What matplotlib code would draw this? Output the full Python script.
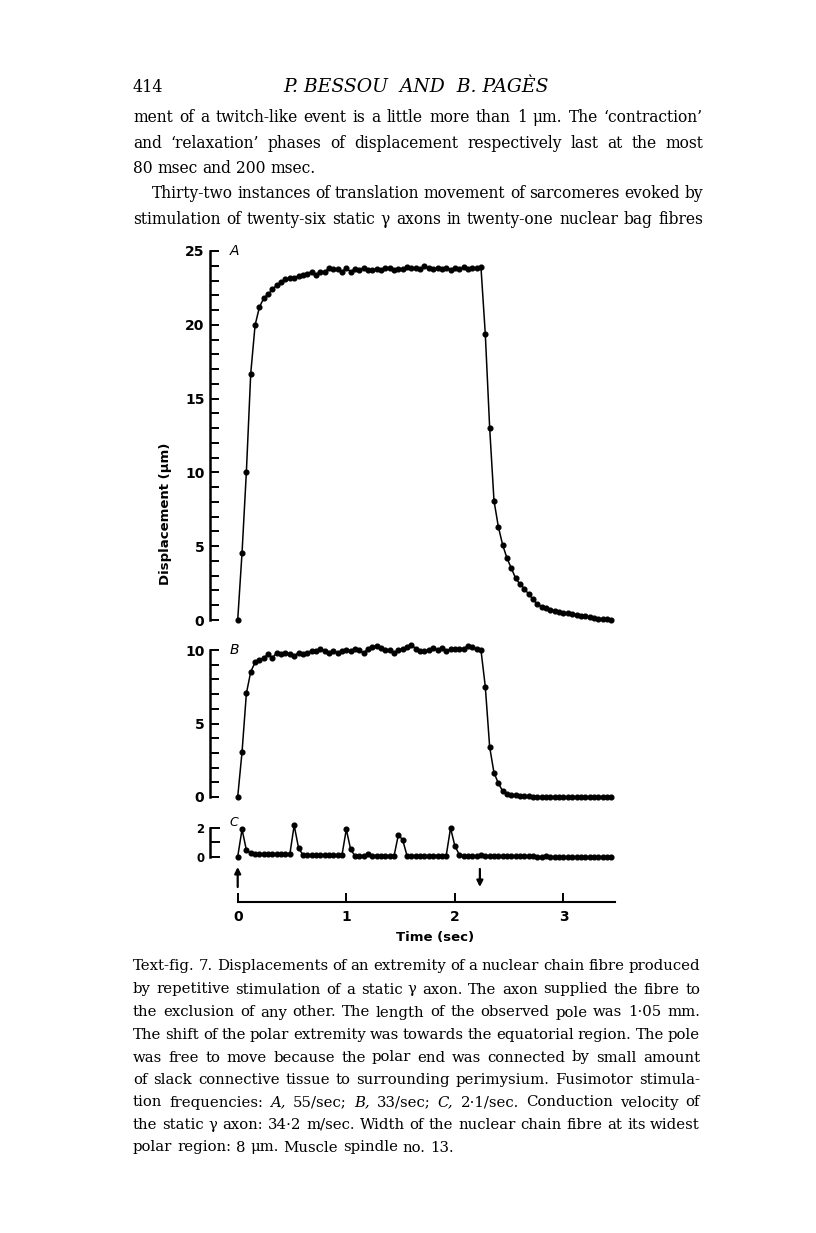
import numpy as np
import matplotlib
matplotlib.use("Agg")
import matplotlib.pyplot as plt
from matplotlib.ticker import MultipleLocator, FixedLocator

W, H = 816, 1233
DT = 0.04  # sampling interval (s)

# ---------------- data ----------------
a_disp = [0, 4.56, 10.05, 16.7, 19.97, 21.2, 21.8, 22.07, 22.4, 22.7, 22.9, 23.1,
          23.15, 23.2, 23.3, 23.4,
          23.47, 23.6, 23.4, 23.6, 23.55, 23.85, 23.8, 23.78, 23.6, 23.85, 23.6, 23.78,
          23.74, 23.85, 23.74, 23.7, 23.78, 23.7, 23.85, 23.85, 23.74, 23.78, 23.78, 23.9,
          23.85, 23.85, 23.8, 23.96, 23.85, 23.78, 23.85, 23.78, 23.85, 23.74, 23.85, 23.8,
          23.9, 23.78, 23.85, 23.85, 23.9,
          19.36, 13.03, 8.08, 6.32, 5.08, 4.18, 3.5, 2.82, 2.42, 2.12, 1.74, 1.40, 1.06,
          0.9, 0.8, 0.7, 0.62, 0.55, 0.5, 0.45, 0.4, 0.35, 0.3, 0.24, 0.18, 0.13, 0.09,
          0.06, 0.04, 0.02]

b_disp = [0, 3.07, 7.05, 8.52, 9.16, 9.32, 9.48, 9.7, 9.48, 9.82, 9.7, 9.82, 9.7, 9.6,
          9.82, 9.7, 9.82, 9.93, 9.93, 10.1, 9.93, 9.77, 9.93, 9.82, 9.93, 10.0, 9.93, 10.1,
          10.0, 9.77, 10.1, 10.2, 10.27, 10.16, 10.0, 10.0, 9.82, 10.0, 10.1, 10.2, 10.34,
          10.1, 9.93, 9.93, 10.0, 10.16, 10.0, 10.16, 9.93, 10.05, 10.05, 10.1, 10.1, 10.27,
          10.18, 10.05, 10.0,
          7.5, 3.41, 1.64, 0.95, 0.39, 0.23, 0.16, 0.11, 0.07, 0.05,
          0.04, 0.03, 0.03, 0.02, 0.02, 0.01, 0.01, 0.0, 0.0, 0.0, -0.01, -0.01, -0.02,
          -0.02, -0.02, -0.03, -0.03, -0.03, -0.03, -0.03]

c_disp = [0, 1.88, 0.45, 0.25, 0.2,
          0.18, 0.17, 0.17, 0.17, 0.17, 0.17, 0.16, 0.16,
          2.16, 0.61, 0.12,
          0.1, 0.1, 0.1, 0.1, 0.1, 0.1, 0.1, 0.1, 0.1,
          1.88, 0.5, 0.05,
          0.08, 0.08, 0.2, 0.08, 0.08, 0.07, 0.07, 0.07, 0.07,
          1.52, 1.13, 0.05,
          0.08, 0.08, 0.08, 0.08, 0.08, 0.08, 0.08, 0.08, 0.08,
          1.97, 0.73, 0.15,
          0.05, 0.05, 0.05, 0.05, 0.12,
          0.05, 0.04, 0.04, 0.04, 0.03, 0.03, 0.03, 0.03, 0.02, 0.02, 0.02, 0.02, 0.01, 0.01,
          0.08,
          -0.03, -0.04, -0.04, -0.05, -0.05, -0.05, -0.05, -0.05, -0.05, -0.05, -0.05, -0.05,
          -0.05, -0.05, -0.05]

time_ticks = [0, 1, 2, 3]
a_yticks = [0, 5, 10, 15, 20, 25]
b_yticks = [0, 5, 10]
c_yticks = [0, 2]
stim_on, stim_off = 0.0, 2.23
panel_labels = ["A", "B", "C"]

body_lines = [
    "ment of a twitch-like event is a little more than 1 μm. The ‘contraction’",
    "and ‘relaxation’ phases of displacement respectively last at the most",
    "80 msec and 200 msec.",
    "Thirty-two instances of translation movement of sarcomeres evoked by",
    "stimulation of twenty-six static γ axons in twenty-one nuclear bag fibres",
]
caption_lines = [
    "Text-fig. 7. Displacements of an extremity of a nuclear chain fibre produced",
    "by repetitive stimulation of a static γ axon. The axon supplied the fibre to",
    "the exclusion of any other. The length of the observed pole was 1·05 mm.",
    "The shift of the polar extremity was towards the equatorial region. The pole",
    "was free to move because the polar end was connected by small amount",
    "of slack connective tissue to surrounding perimysium. Fusimotor stimula-",
    "tion frequencies: *A, 55/sec; *B, 33/sec; *C, 2·1/sec. Conduction velocity of",
    "the static γ axon: 34·2 m/sec. Width of the nuclear chain fibre at its widest",
    "polar region: 8 μm. Muscle spindle no. 13.",
]

# ---------------- figure ----------------
fig = plt.figure(figsize=(W / 100, H / 100), dpi=100)
renderer = fig.canvas.get_renderer()

X0_PX, PX_PER_S = 237.7, 108.6
AX_L, AX_R = 210, 620
XLIM = ((AX_L - X0_PX) / PX_PER_S, (AX_R - X0_PX) / PX_PER_S)


def px_axes(y_top, y_bot, x0=AX_L, x1=AX_R):
    return fig.add_axes([x0 / W, 1 - y_bot / H, (x1 - x0) / W, (y_bot - y_top) / H])


def fx(x):
    return x / W


def fy(y):
    return 1 - y / H


TICKFONT = dict(family="DejaVu Sans", weight="bold")


def trace_panel(y_top, y_bot, data, ymax, yticks, minor, tick_fs=10, tick_len=6.5):
    ax = px_axes(y_top, y_bot)
    t = np.arange(len(data)) * DT
    ax.plot(t, data, "-", color="black", lw=1.1, marker="o", ms=3.4,
            mfc="black", mec="black", clip_on=False)
    ax.set_xlim(*XLIM)
    ax.set_ylim(0, ymax)
    for s in ["top", "right", "bottom"]:
        ax.spines[s].set_visible(False)
    ax.spines["left"].set_linewidth(1.8)
    ax.spines["left"].set_bounds(0, ymax)
    ax.set_xticks([])
    ax.yaxis.set_major_locator(FixedLocator(yticks))
    ax.yaxis.set_minor_locator(MultipleLocator(minor))
    ax.tick_params(axis="y", which="both", direction="in", length=tick_len, width=1.4, pad=4)
    ax.set_yticklabels([str(v) for v in yticks], fontsize=tick_fs, **TICKFONT)
    ax.patch.set_alpha(0)
    return ax


ax_a = trace_panel(251, 620, a_disp, 25, a_yticks, 1)
ax_b = trace_panel(650, 797, b_disp, 10, b_yticks, 1)
ax_c = trace_panel(827.6, 856.7, c_disp, 2, c_yticks, 1, tick_fs=8.5, tick_len=7)

for lab, (x, y, fs) in zip(panel_labels, [(230, 251, 10), (230, 650, 10), (229, 823, 9)]):
    fig.text(fx(x), fy(y), lab, fontsize=fs, style="italic",
             family="DejaVu Sans", ha="left", va="center")

fig.text(fx(166), fy(514), "Displacement (μm)", rotation=90, fontsize=9.5,
         ha="center", va="center", **TICKFONT)

# time axis
ax_t = px_axes(880, 901.7)
ax_t.set_xlim(*XLIM)
ax_t.set_ylim(0, 1)
for s in ["top", "right", "left"]:
    ax_t.spines[s].set_visible(False)
ax_t.spines["bottom"].set_linewidth(1.5)
ax_t.spines["bottom"].set_bounds(0, 3.47)
ax_t.set_yticks([])
ax_t.set_xticks(time_ticks)
ax_t.set_xticklabels([str(v) for v in time_ticks], fontsize=10, **TICKFONT)
ax_t.tick_params(axis="x", direction="in", length=6.5, width=1.4, pad=6)
ax_t.patch.set_alpha(0)
fig.text(fx(435), fy(938), "Time (sec)", fontsize=9.5, ha="center", va="center", **TICKFONT)

# stimulation arrows
arrowkw = dict(arrowstyle="-|>", lw=1.6, color="black", mutation_scale=9, shrinkA=0, shrinkB=0)
ax_c.annotate("", xy=(stim_on, H - 867), xytext=(stim_on, H - 887),
              xycoords=("data", "figure pixels"), textcoords=("data", "figure pixels"),
              arrowprops=arrowkw, annotation_clip=False)
ax_c.annotate("", xy=(stim_off, H - 887), xytext=(stim_off, H - 869),
              xycoords=("data", "figure pixels"), textcoords=("data", "figure pixels"),
              arrowprops=arrowkw, annotation_clip=False)

# ---------------- page text ----------------
SERIF = "DejaVu Serif"


def measure(s, size, style="normal"):
    t = fig.text(0, 0, s, fontsize=size, family=SERIF, style=style)
    w = t.get_window_extent(renderer).width
    t.remove()
    return w


def parse(line):
    items = []
    for w in line.split(" "):
        if w.startswith("*"):
            items.append((w[1:], "italic"))
        else:
            items.append((w, "normal"))
    return items


def fit_size(lines, x0s, x1, size, justified):
    """Largest size (<= size) at which every justified line fits with decent spaces."""
    while True:
        space = measure("a a", size) - 2 * measure("a", size)
        ok = True
        for line, x0, j in zip(lines, x0s, justified):
            if not j:
                continue
            items = parse(line)
            tot = sum(measure(w, size, st) for w, st in items)
            if tot + 0.75 * space * (len(items) - 1) > (x1 - x0):
                ok = False
                break
        if ok:
            return size
        size -= 0.1


def justify(line, x0, x1, y_base, size, justify_line=True):
    items = parse(line)
    space = measure("a a", size) - 2 * measure("a", size)
    widths = [measure(w, size, st) for w, st in items]
    if justify_line and len(items) > 1:
        gap = (x1 - x0 - sum(widths)) / (len(items) - 1)
    else:
        gap = space
    x = x0
    for (w, st), wd in zip(items, widths):
        fig.text(fx(x), fy(y_base), w, fontsize=size, family=SERIF, style=st,
                 ha="left", va="baseline")
        x += wd + gap


fig.text(fx(133), fy(92), "414", fontsize=11.5, family=SERIF, ha="left", va="baseline")
fig.text(fx(416), fy(92), "P. BESSOU  AND  B. PAGÈS", fontsize=13.5, family=SERIF,
         style="italic", ha="center", va="baseline")

body_base = [122, 147.5, 173, 198.5, 223.5]
body_x0 = [133, 133, 133, 152, 133]
body_j = [True, True, False, True, True]
bsize = fit_size(body_lines, body_x0, 703, 11.6, body_j)
for line, yb, x0, j in zip(body_lines, body_base, body_x0, body_j):
    justify(line, x0, 703, yb, bsize, justify_line=j)

cap_base = [970, 993.5, 1016.5, 1039, 1061.5, 1084, 1106.5, 1129, 1151.5]
cap_x0 = [133] * len(caption_lines)
cap_j = [True] * (len(caption_lines) - 1) + [False]
csize = fit_size(caption_lines, cap_x0, 700, 10.7, cap_j)
for line, yb, x0, j in zip(caption_lines, cap_base, cap_x0, cap_j):
    justify(line, x0, 700, yb, csize, justify_line=j)

fig.savefig("out.png", dpi=100)
